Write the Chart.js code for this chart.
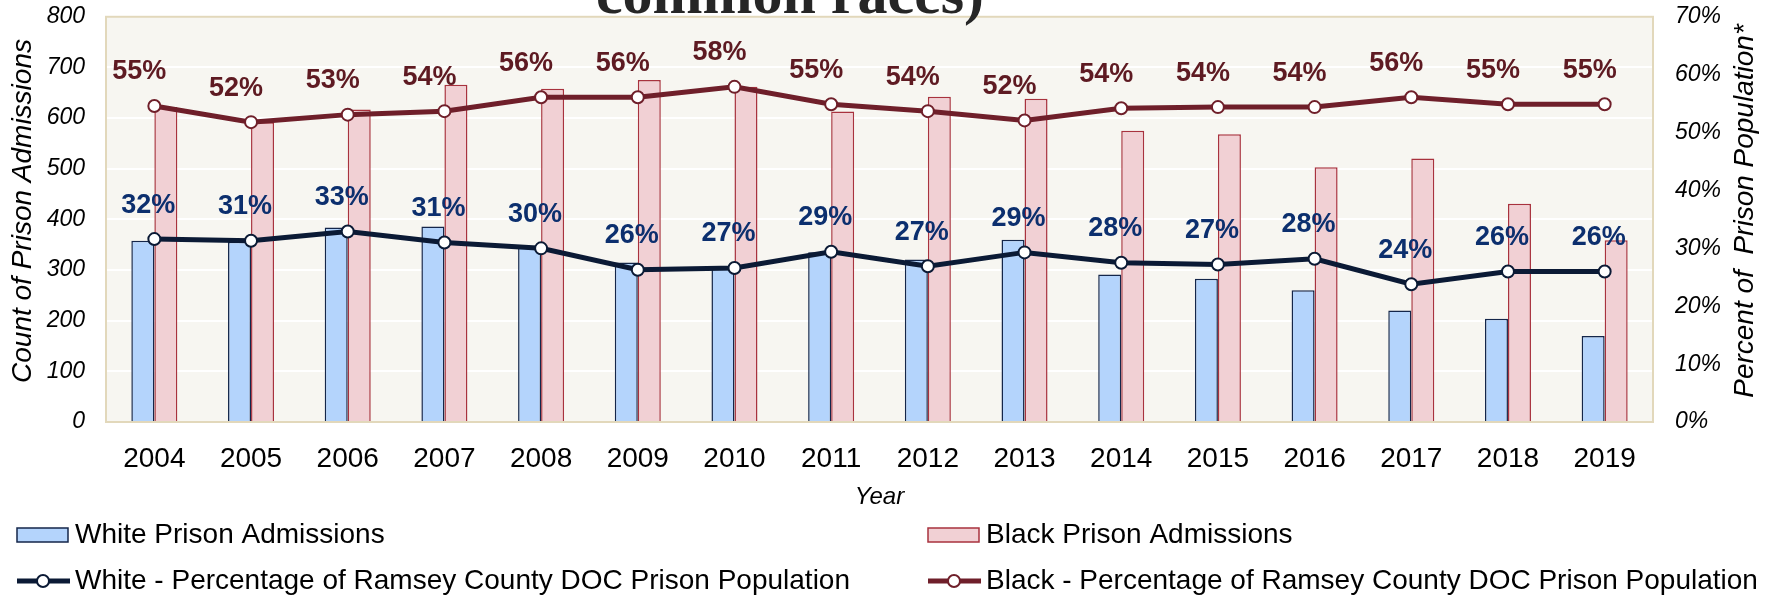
<!DOCTYPE html>
<html lang="en">
<head>
    <meta charset="UTF-8">
    <title>Prison Admissions by Race</title>
    <script src="https://cdn.jsdelivr.net/npm/chart.js"></script>
    <style>
        body { margin: 0; background: #fff; }
        #wrap { width: 1775px; height: 595px; }
    </style>
</head>
<body>
<div id="wrap"><canvas id="myChart" width="1775" height="595"></canvas></div>
<script>
    // values
    const years = ["2004", "2005", "2006", "2007", "2008", "2009", "2010", "2011",
        "2012", "2013", "2014", "2015", "2016", "2017", "2018", "2019"];
    const whiteAdmissions = [358, 356, 384, 386, 345, 315, 305, 335, 321, 360, 291, 283, 260, 220, 204, 170];
    const blackAdmissions = [622, 592, 617, 666, 658, 675, 662, 613, 642, 638, 575, 568, 503, 520, 431, 359];
    const whitePct = [31.6, 31.3, 32.9, 31.0, 30.0, 26.3, 26.6, 29.4, 26.9, 29.3, 27.5, 27.2, 28.2, 23.8, 26.0, 26.0];
    const blackPct = [54.6, 51.8, 53.1, 53.7, 56.1, 56.1, 57.9, 54.9, 53.7, 52.1, 54.2, 54.4, 54.4, 56.1, 54.9, 54.9];
    const countTicks = [0, 800, 100];
    const pctTicks = [0, 70, 10];

    const font = "'Liberation Sans', Arial, sans-serif";

    const bgPlugin = {
        id: 'plotBg',
        beforeDraw(chart) {
            const {ctx, chartArea: a} = chart;
            ctx.save();
            ctx.fillStyle = '#f7f6f1';
            ctx.fillRect(a.left, a.top, a.right - a.left, a.bottom - a.top);
            ctx.restore();
        },
        afterDatasetsDraw(chart) {
            const {ctx, chartArea: a} = chart;
            ctx.save();
            ctx.strokeStyle = '#e2d8bb';
            ctx.lineWidth = 2;
            ctx.strokeRect(a.left, a.top, a.right - a.left, a.bottom - a.top);
            ctx.restore();
        }
    };

    // percentage labels above the line points
    const labelPlugin = {
        id: 'pctLabels',
        afterDatasetsDraw(chart) {
            const ctx = chart.ctx;
            ctx.save();
            ctx.font = "bold 27px " + font;
            ctx.textAlign = 'center';
            ctx.textBaseline = 'middle';
            chart.data.datasets.forEach((ds, i) => {
                if (ds.type !== 'line') return;
                const meta = chart.getDatasetMeta(i);
                ctx.fillStyle = ds.labelColor;
                meta.data.forEach((pt, j) => {
                    ctx.fillText(Math.round(ds.data[j]) + '%', pt.x + ds.labelDx, pt.y - 34);
                });
            });
            ctx.restore();
        }
    };

    // title remnant, axis titles and the two-column legend
    const extrasPlugin = {
        id: 'extras',
        afterDraw(chart) {
            const ctx = chart.ctx;
            ctx.save();
            ctx.fillStyle = '#262626';
            ctx.font = "bold 60px 'Liberation Serif', serif";
            ctx.textAlign = 'center';
            ctx.textBaseline = 'alphabetic';
            ctx.fillText('common races)', 790, 13);
            ctx.restore();

            const axisTitle = (text, x, y) => {
                ctx.save();
                ctx.fillStyle = '#000';
                ctx.font = "italic 28px " + font;
                ctx.textAlign = 'center';
                ctx.textBaseline = 'middle';
                ctx.translate(x, y);
                ctx.rotate(-Math.PI / 2);
                ctx.fillText(text, 0, 0);
                ctx.restore();
            };
            axisTitle('Count of Prison Admissions', 23, 211);
            axisTitle('Percent of  Prison Population*', 1745, 211);

            const spots = [[17, 535], [928, 535], [17, 581], [928, 581]];
            ctx.save();
            ctx.font = "28px " + font;
            ctx.textBaseline = 'middle';
            ctx.textAlign = 'left';
            chart.data.datasets.forEach((ds, i) => {
                const [x, y] = spots[i];
                if (ds.type === 'line') {
                    ctx.strokeStyle = ds.borderColor;
                    ctx.lineWidth = 5;
                    ctx.beginPath();
                    ctx.moveTo(x, y);
                    ctx.lineTo(x + 53, y);
                    ctx.stroke();
                    ctx.beginPath();
                    ctx.arc(x + 26, y, 6, 0, Math.PI * 2);
                    ctx.fillStyle = '#fff';
                    ctx.fill();
                    ctx.lineWidth = 2;
                    ctx.stroke();
                } else {
                    ctx.fillStyle = ds.backgroundColor;
                    ctx.fillRect(x, y - 7, 51, 14);
                    ctx.strokeStyle = ds.borderColor;
                    ctx.lineWidth = 1.5;
                    ctx.strokeRect(x, y - 7, 51, 14);
                }
                ctx.fillStyle = '#000';
                ctx.fillText(ds.label, x + 58, y);
            });
            ctx.restore();
        }
    };

    new Chart(document.getElementById('myChart'), {
        type: 'bar',
        data: {
            labels: years,
            datasets: [{
                label: 'White Prison Admissions',
                data: whiteAdmissions,
                backgroundColor: '#b4d4fc',
                borderColor: '#14264a',
                borderWidth: 1.5,
                yAxisID: 'y',
                order: 2
            }, {
                label: 'Black Prison Admissions',
                data: blackAdmissions,
                backgroundColor: '#f1d0d4',
                borderColor: '#a8323e',
                borderWidth: 1.5,
                yAxisID: 'y',
                order: 2
            }, {
                type: 'line',
                label: 'White - Percentage of Ramsey County DOC Prison Population',
                data: whitePct,
                borderColor: '#0b1a35',
                borderWidth: 5,
                pointRadius: 6,
                pointBorderWidth: 2,
                pointBackgroundColor: '#fff',
                pointBorderColor: '#0b1a35',
                labelColor: '#0c2f6e',
                labelDx: -6,
                yAxisID: 'y1',
                order: 0
            }, {
                type: 'line',
                label: 'Black - Percentage of Ramsey County DOC Prison Population',
                data: blackPct,
                borderColor: '#6f1f2a',
                borderWidth: 5,
                pointRadius: 6,
                pointBorderWidth: 2,
                pointBackgroundColor: '#fff',
                pointBorderColor: '#6f1f2a',
                labelColor: '#5e1a22',
                labelDx: -15,
                yAxisID: 'y1',
                order: 1
            }]
        },
        options: {
            responsive: false,
            animation: false,
            datasets: {
                bar: { categoryPercentage: 0.476, barPercentage: 1.0 }
            },
            layout: { padding: { top: 0, bottom: 83, left: 0, right: 0 } },
            plugins: {
                legend: { display: false },
                tooltip: { enabled: false }
            },
            scales: {
                x: {
                    grid: { display: false },
                    border: { display: false },
                    ticks: { color: '#000', font: { family: font, size: 28 }, padding: 12, maxRotation: 0 },
                    title: {
                        display: true, text: 'Year', color: '#000',
                        font: { family: font, size: 24, style: 'italic' },
                        padding: { top: 0, bottom: 0 }
                    },
                    afterFit(scale) { scale.height = 90; }
                },
                y: {
                    position: 'left',
                    min: countTicks[0],
                    max: countTicks[1],
                    grid: { color: '#ffffff', lineWidth: 2, drawTicks: true, tickLength: 18, tickColor: 'rgba(0,0,0,0)' },
                    border: { display: false },
                    ticks: {
                        stepSize: countTicks[2], color: '#000', padding: 3,
                        font: { family: font, size: 23, style: 'italic' }
                    },
                    afterFit(scale) { scale.width = 106; }
                },
                y1: {
                    position: 'right',
                    min: pctTicks[0],
                    max: pctTicks[1],
                    grid: { drawOnChartArea: false, drawTicks: true, tickLength: 19, tickColor: 'rgba(0,0,0,0)' },
                    border: { display: false },
                    ticks: {
                        stepSize: pctTicks[2], color: '#000', padding: 3,
                        font: { family: font, size: 23, style: 'italic' },
                        callback: v => v + '%'
                    },
                    afterFit(scale) { scale.width = 122; }
                }
            }
        },
        plugins: [bgPlugin, labelPlugin, extrasPlugin]
    });
</script>
</body>
</html>
